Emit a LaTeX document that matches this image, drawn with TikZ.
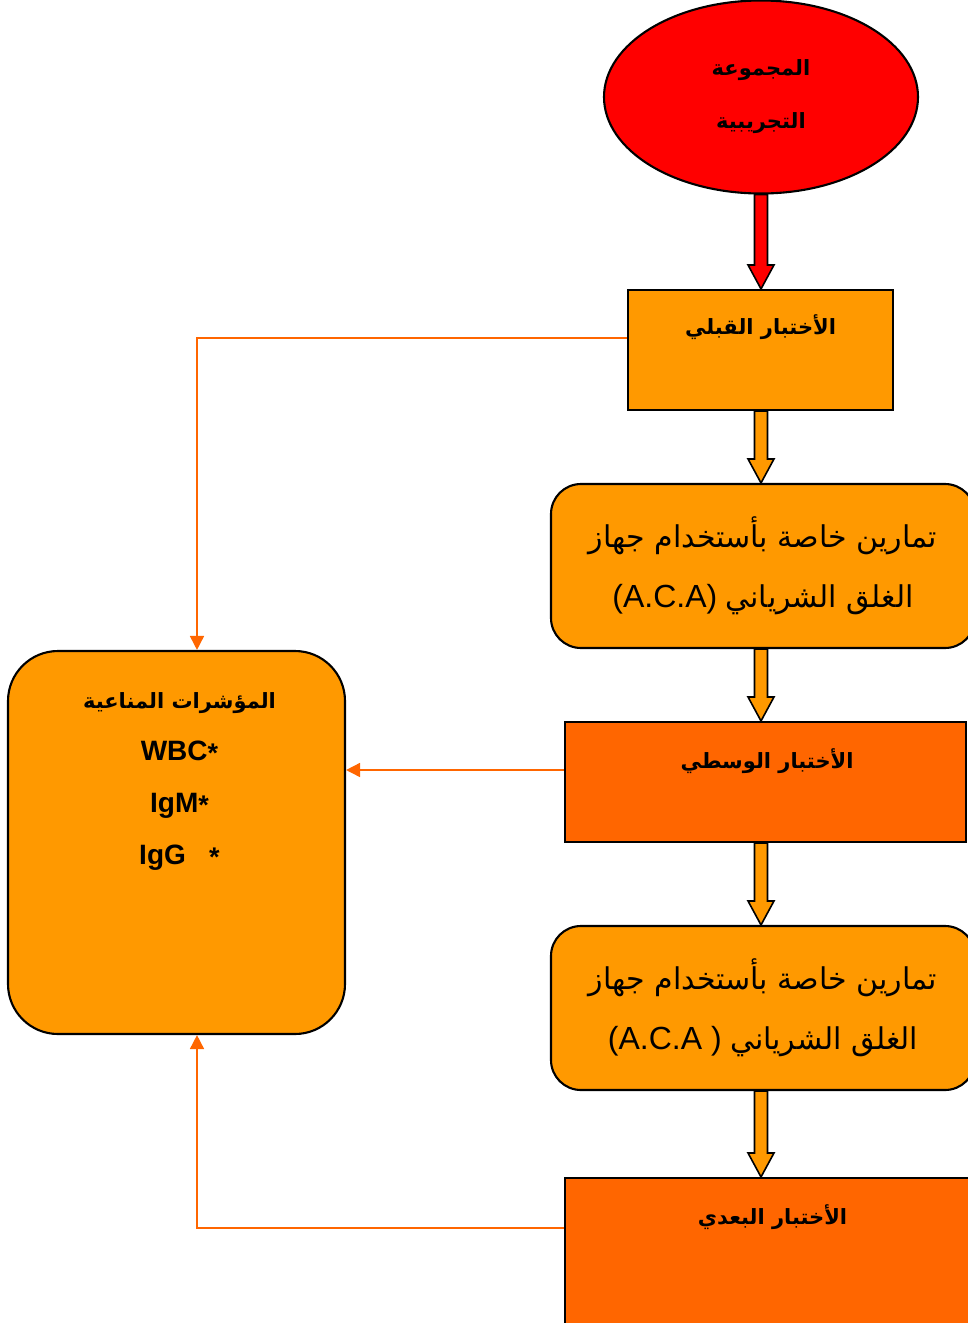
\documentclass[tikz,border=0pt]{standalone}
\usepackage{fontspec}
\setmainfont{Liberation Sans}
\newfontfamily\arabicfont[Script=Arabic]{DejaVu Sans}
\TeXXeTstate=1
\usetikzlibrary{arrows.meta,shapes.geometric,calc}
\definecolor{cred}{HTML}{FF0000}
\definecolor{corange}{HTML}{FF9900}
\definecolor{cdark}{HTML}{FF6600}
\newcommand{\artext}[1]{{\arabicfont\beginR #1\endR}}
\newcommand{\mystar}{{\fontsize{27}{27}\selectfont\raisebox{-2pt}{*}}}
\newcommand{\latin}[1]{{\fontsize{32}{60}\selectfont #1}}
\newcommand{\blockarrow}[3]{%
  \filldraw[fill=#3, draw=black, line width=1.6pt, line join=miter]
  let \p1=(#1.south -| axis), \p2=(#2.north -| axis) in
  (\x1-6.5pt,\y1) -- (\x1-6.5pt,\y2+24pt) -- (\x1-13pt,\y2+24pt) -- (\x1,\y2)
  -- (\x1+13pt,\y2+24pt) -- (\x1+6.5pt,\y2+24pt) -- (\x1+6.5pt,\y1) -- cycle;}
\begin{document}
\begin{tikzpicture}[x=1pt,y=-1pt,
  boxstyle/.style={draw=black, line width=2.1pt, rectangle, inner sep=0pt},
  roundbox/.style={boxstyle, rounded corners=30pt, fill=corange, align=center,
    font=\fontsize{30}{60}\selectfont},
  titletext/.style={font=\fontsize{21}{30}\selectfont\bfseries},
  conn/.style={draw=cdark, line width=1.6pt, -{Triangle[length=14pt,width=14pt]}}]
\useasboundingbox (0,0) rectangle (968,1323);
\begin{scope}
\clip (0,0) rectangle (968,1323);
\coordinate (axis) at (761,0);
% nodes
\node[ellipse, draw=black, line width=2.1pt, fill=cred, minimum width=314pt, minimum height=193pt,
  align=center, font=\fontsize{21}{53}\selectfont\bfseries] (grp) at (761,97)
  {\artext{المجموعة}\\\artext{التجريبية}};
\node[boxstyle, fill=corange, minimum width=265pt, minimum height=120pt] (b1) at (760.5,350) {};
\node[titletext] at ([yshift=-38pt]b1.north) {\artext{الأختبار القبلي}};
\node[roundbox, minimum width=424pt, minimum height=164pt] (r2) at (763,566)
  {\artext{تمارين خاصة بأستخدام جهاز}\\\latin{(A.C.A)} \artext{الغلق الشرياني}};
\node[boxstyle, fill=cdark, minimum width=401pt, minimum height=120pt] (b3) at (765.5,782) {};
\node[titletext] at ([xshift=1.5pt,yshift=-40pt]b3.north) {\artext{الأختبار الوسطي}};
\node[roundbox, minimum width=424pt, minimum height=164pt] (r4) at (763,1008)
  {\artext{تمارين خاصة بأستخدام جهاز}\\\latin{(A.C.A )} \artext{الغلق الشرياني}};
\node[boxstyle, fill=cdark, minimum width=415pt, minimum height=152pt] (b5) at (772.5,1254) {};
\node[titletext] at ([yshift=-40pt]b5.north) {\artext{الأختبار البعدي}};
\node[boxstyle, rounded corners=50pt, fill=corange, minimum width=337pt, minimum height=383pt] (lb) at (176.5,842.5) {};
\node[align=center, font=\fontsize{28}{52}\selectfont\bfseries] at ([xshift=3pt,yshift=-132pt]lb.north)
  {{\fontsize{21}{52}\selectfont\artext{المؤشرات المناعية}}\\WBC\mystar\\IgM\mystar\\IgG\ \ \ \mystar};
% block arrows
\blockarrow{grp}{b1}{cred}
\blockarrow{b1}{r2}{corange}
\blockarrow{r2}{b3}{corange}
\blockarrow{b3}{r4}{corange}
\blockarrow{r4}{b5}{corange}
% connectors
\draw[conn] ([yshift=12pt]b1.west) -| ([xshift=20.5pt]lb.north);
\draw[conn] ([yshift=12pt]b3.west) -- ([yshift=12pt]b3.west -| lb.east);
\draw[conn] ([yshift=26pt]b5.west) -| ([xshift=20.5pt]lb.south);
\end{scope}
\end{tikzpicture}
\end{document}
